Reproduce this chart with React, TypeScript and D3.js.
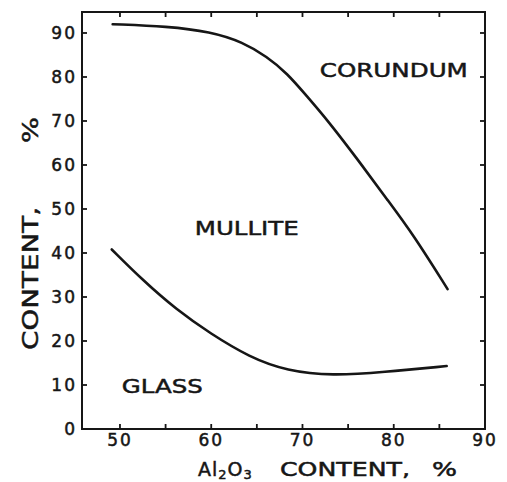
import React from "react";
import * as d3 from "d3";

const xTicks = [50, 55, 60, 65, 70, 75, 80, 85, 90];
const xTickLabels = [50, 60, 70, 80, 90];
const yTicks = [0, 10, 20, 30, 40, 50, 60, 70, 80, 90];

// Mullite / corundum boundary
const upperX = [49.2, 55.2, 59.9, 63.5, 66.1, 68.3, 70.5, 72.7, 76.0, 79.3, 82.1, 85.9];
const upperY = [92.0, 91.5, 90.3, 87.9, 84.6, 80.9, 75.6, 70.3, 61.4, 52.1, 44.3, 31.8];

// Glass / mullite boundary
const lowerX = [49.1, 52.5, 56.2, 59.9, 64.2, 68.3, 73.3, 78.8, 85.8];
const lowerY = [40.8, 33.8, 27.1, 21.7, 16.3, 13.2, 12.1, 12.9, 14.3];

const regionLabels = ["CORUNDUM", "MULLITE", "GLASS"];
const regionX = [71.9, 58.2, 50.2];
const regionY = [80.0, 44.1, 8.2];
const regionLen = [148, 104, 81];

const INK = "#161616";
const FONT = "'DejaVu Sans', Verdana, sans-serif";

export default function App() {
  const left = 82, right = 485, top = 12, bottom = 429;
  const x = d3.scaleLinear().domain([45.84, 90]).range([left, right]);
  const y = d3.scaleLinear().domain([0, 94.77]).range([bottom, top]);

  const line = d3
    .line<[number, number]>()
    .x((d) => x(d[0]))
    .y((d) => y(d[1]))
    .curve(d3.curveBasis);

  const upper = upperX.map((v, i) => [v, upperY[i]] as [number, number]);
  const lower = lowerX.map((v, i) => [v, lowerY[i]] as [number, number]);
  const tk = 5;

  return (
    <svg
      width={507}
      height={482}
      style={{ position: "absolute", left: 0, top: 0, background: "#fff" }}
      fontFamily={FONT}
    >
      <rect x={0} y={0} width={507} height={482} fill="#fff" />
      {/* frame */}
      <rect x={left} y={top} width={right - left} height={bottom - top} fill="none" stroke={INK} strokeWidth={2} />
      {/* x ticks bottom and top */}
      {xTicks.map((t) => (
        <g key={"xt" + t}>
          <line x1={x(t)} x2={x(t)} y1={bottom} y2={bottom - tk} stroke={INK} strokeWidth={1.8} />
          <line x1={x(t)} x2={x(t)} y1={top} y2={top + tk} stroke={INK} strokeWidth={1.8} />
        </g>
      ))}
      {/* y ticks left and right */}
      {yTicks.map((t) => (
        <g key={"yt" + t}>
          <line x1={left} x2={left + tk} y1={y(t)} y2={y(t)} stroke={INK} strokeWidth={1.8} />
          <line x1={right} x2={right - tk} y1={y(t)} y2={y(t)} stroke={INK} strokeWidth={1.8} />
        </g>
      ))}
      {/* tick labels */}
      {xTickLabels.map((t) => (
        <text
          key={"xl" + t}
          x={x(t)}
          y={446}
          textAnchor="middle"
          fontSize={17}
          fill={INK}
          stroke={INK}
          strokeWidth={0.5}
          letterSpacing={2}
        >
          {t}
        </text>
      ))}
      {yTicks.map((t) => (
        <text
          key={"yl" + t}
          x={77}
          y={y(t) + 6}
          textAnchor="end"
          fontSize={17}
          fill={INK}
          stroke={INK}
          strokeWidth={0.5}
          letterSpacing={2}
        >
          {t}
        </text>
      ))}
      {/* curves */}
      <path d={line(upper) || ""} fill="none" stroke={INK} strokeWidth={2.6} strokeLinecap="round" />
      <path d={line(lower) || ""} fill="none" stroke={INK} strokeWidth={2.6} strokeLinecap="round" />
      {/* region labels */}
      {regionLabels.map((s, i) => (
        <text
          key={s}
          x={x(regionX[i])}
          y={y(regionY[i])}
          fontSize={20}
          fill={INK}
          stroke={INK}
          strokeWidth={0.5}
          textLength={regionLen[i]}
          lengthAdjust="spacingAndGlyphs"
        >
          {s}
        </text>
      ))}
      {/* x axis title */}
      <text x={198} y={476} fontSize={19} fill={INK} stroke={INK} strokeWidth={0.5} letterSpacing={1}>
        <tspan>Al</tspan>
        <tspan dy={3} fontSize={13}>2</tspan>
        <tspan dy={-3}>O</tspan>
        <tspan dy={3} fontSize={13}>3</tspan>
      </text>
      <text x={280} y={476} fontSize={19} fill={INK} stroke={INK} strokeWidth={0.5} textLength={130} lengthAdjust="spacingAndGlyphs">
        CONTENT,
      </text>
      <text x={432} y={476} fontSize={19} fill={INK} stroke={INK} strokeWidth={0.5} textLength={25} lengthAdjust="spacingAndGlyphs">
        %
      </text>
      {/* y axis title */}
      <text
        transform="translate(38,350) rotate(-90)"
        fontSize={22}
        fill={INK}
        stroke={INK}
        strokeWidth={0.5}
        textLength={143}
        lengthAdjust="spacingAndGlyphs"
      >
        CONTENT,
      </text>
      <text
        transform="translate(38,143) rotate(-90)"
        fontSize={22}
        fill={INK}
        stroke={INK}
        strokeWidth={0.5}
        textLength={26}
        lengthAdjust="spacingAndGlyphs"
      >
        %
      </text>
    </svg>
  );
}
